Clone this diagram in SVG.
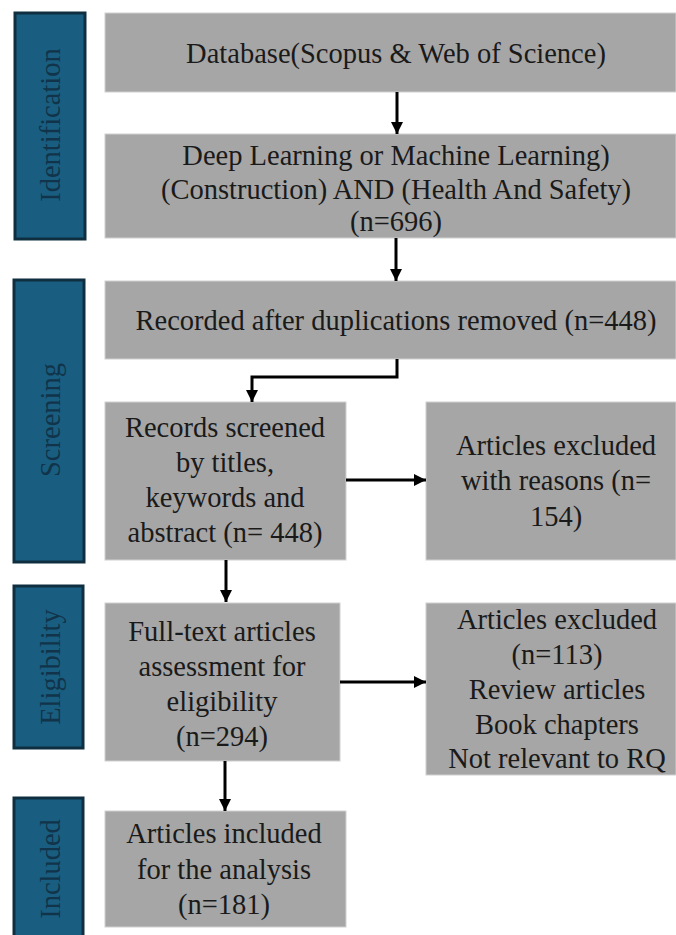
<svg xmlns="http://www.w3.org/2000/svg" width="676" height="935" viewBox="0 0 676 935">
<defs>
<style>
.box{fill:#a6a6a6;stroke:#d0d0d0;stroke-width:1}
.stage{fill:#195e80;stroke:#0f2f40;stroke-width:3}
.t{font-size:28.5px;fill:#1a1a1a;text-anchor:middle}
.s{font-size:28.5px;fill:#11344a;text-anchor:middle}
.c{fill:none;stroke:#000;stroke-width:3}
</style>
<marker id="ah" viewBox="0 0 10 10" refX="10" refY="5" markerWidth="4" markerHeight="4" markerUnits="strokeWidth" orient="auto">
<path d="M0,0 L10,5 L0,10 Z" fill="#000"/>
</marker>
</defs>
<rect width="676" height="935" fill="#fff"/>
<g font-family="Liberation Serif, Times New Roman, DejaVu Serif, serif">
<g id="stage-identification">
<rect class="stage" x="15" y="13" width="70" height="226"/>
<text class="s" transform="translate(60,125) rotate(-90)">Identification</text>
</g>
<g id="stage-screening">
<rect class="stage" x="14" y="280" width="70" height="282"/>
<text class="s" transform="translate(60,420) rotate(-90)">Screening</text>
</g>
<g id="stage-eligibility">
<rect class="stage" x="14" y="586" width="69" height="162"/>
<text class="s" transform="translate(60,667) rotate(-90)">Eligibility</text>
</g>
<g id="stage-included">
<rect class="stage" x="14" y="798" width="69" height="145"/>
<text class="s" transform="translate(60,869) rotate(-90)">Included</text>
</g>

<g id="n1">
<rect class="box" x="105" y="13" width="571" height="79"/>
<text class="t" x="396" y="63">Database(Scopus &amp; Web of Science)</text>
</g>
<g id="n2">
<rect class="box" x="105" y="134" width="571" height="104"/>
<text class="t" x="396" y="165">Deep Learning or Machine Learning)</text>
<text class="t" x="396" y="199">(Construction) AND (Health And Safety)</text>
<text class="t" x="396" y="231">(n=696)</text>
</g>
<g id="n3">
<rect class="box" x="105" y="281" width="571" height="78"/>
<text class="t" x="396" y="330">Recorded after duplications removed (n=448)</text>
</g>
<g id="n4">
<rect class="box" x="105" y="402" width="241" height="158"/>
<text class="t" x="225" y="437">Records screened</text>
<text class="t" x="225" y="472">by titles,</text>
<text class="t" x="225" y="507">keywords and</text>
<text class="t" x="225" y="542">abstract (n= 448)</text>
</g>
<g id="n5">
<rect class="box" x="426" y="402" width="250" height="158"/>
<text class="t" x="556" y="455">Articles excluded</text>
<text class="t" x="556" y="490">with reasons (n=</text>
<text class="t" x="556" y="526">154)</text>
</g>
<g id="n6">
<rect class="box" x="426" y="603" width="250" height="172"/>
<text class="t" x="557" y="629">Articles excluded</text>
<text class="t" x="557" y="664">(n=113)</text>
<text class="t" x="557" y="699">Review articles</text>
<text class="t" x="557" y="734">Book chapters</text>
<text class="t" x="557" y="768">Not relevant to RQ</text>
</g>
<g id="n7">
<rect class="box" x="105" y="603" width="235" height="158"/>
<text class="t" x="222" y="641">Full-text articles</text>
<text class="t" x="222" y="676">assessment for</text>
<text class="t" x="222" y="711">eligibility</text>
<text class="t" x="222" y="746">(n=294)</text>
</g>
<g id="n8">
<rect class="box" x="105" y="811" width="241" height="116"/>
<text class="t" x="224" y="843">Articles included</text>
<text class="t" x="224" y="879">for the analysis</text>
<text class="t" x="224" y="914">(n=181)</text>
</g>
</g>
<g id="connectors">
<path class="c" d="M397,92 V134" marker-end="url(#ah)"/>
<path class="c" d="M396,238 V281" marker-end="url(#ah)"/>
<path class="c" d="M397,359 V377 H252 V402" marker-end="url(#ah)"/>
<path class="c" d="M346,480 H426" marker-end="url(#ah)"/>
<path class="c" d="M226,560 V602" marker-end="url(#ah)"/>
<path class="c" d="M340,682 H426" marker-end="url(#ah)"/>
<path class="c" d="M225,761 V811" marker-end="url(#ah)"/>
</g>
</svg>
